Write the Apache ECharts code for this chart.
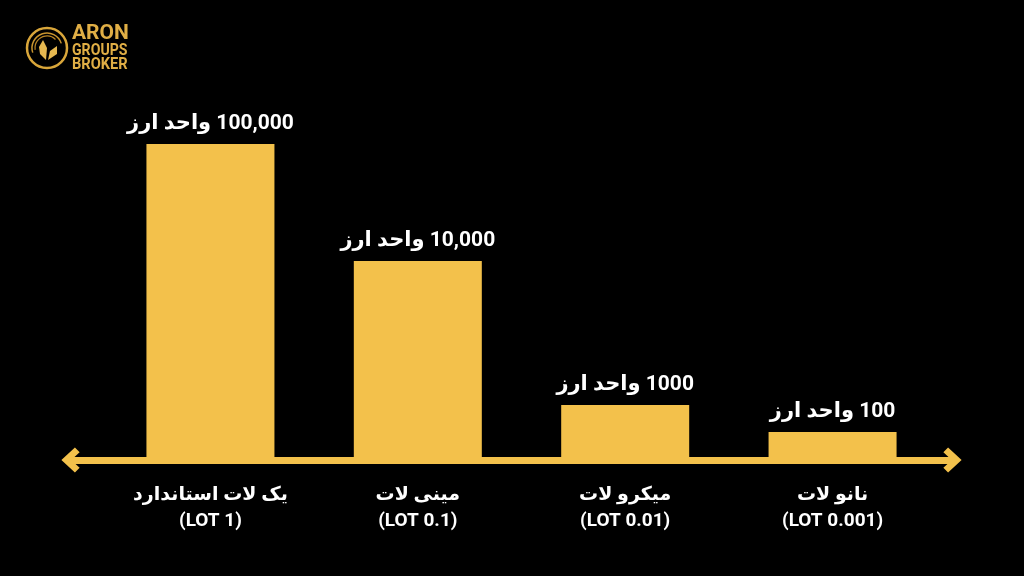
<!DOCTYPE html>
<html><head><meta charset="utf-8">
<script src="https://cdn.jsdelivr.net/npm/echarts@6/dist/echarts.min.js"></script>
<style>html,body{margin:0;padding:0;background:#000;}#c{width:1024px;height:576px;}</style>
</head><body><div id="c"></div>
<script>
// Category labels (Persian name + lot size)
const categories = ['یک لات استاندارد\n(LOT 1)', 'مینی لات\n(LOT 0.1)', 'میکرو لات\n(LOT 0.01)', 'نانو لات\n(LOT 0.001)'];
// Value labels shown above bars
const valueLabels = ['100,000 واحد ارز', '10,000 واحد ارز', '1000 واحد ارز', '100 واحد ارز'];
// Visual bar heights (illustrative, not to scale)
const barHeights = [316, 199, 55, 28];

const YELLOW = '#F3C14B';
const GOLD = '#E0AE45';
const FONT = "Roboto, 'DejaVu Sans', sans-serif";
const chevron = 'path://M12,0 L24,13 L19.5,17.5 L12,9.5 L4.5,17.5 L0,13 Z';

const chart = echarts.init(document.getElementById('c'), null, {renderer: 'canvas'});
chart.setOption({
  backgroundColor: '#000',
  animation: false,
  grid: [
    {left: 106.75, right: 87.75, top: 60, bottom: 116},
    {left: 70.5, right: 71.5, top: 60, bottom: 116}
  ],
  xAxis: [
    {
      type: 'category', data: categories, gridIndex: 0,
      axisLine: {show: false}, axisTick: {show: false},
      axisLabel: {
        color: '#fff', fontSize: 19, fontWeight: 'bold', fontFamily: FONT,
        lineHeight: 26, margin: 22, interval: 0
      }
    },
    {
      type: 'value', gridIndex: 1, min: 0, max: 1,
      splitLine: {show: false}, axisTick: {show: false}, axisLabel: {show: false},
      axisLine: {
        show: true, onZero: false,
        lineStyle: {color: YELLOW, width: 7},
        symbol: [chevron, chevron], symbolSize: [25, 19]
      }
    }
  ],
  yAxis: [
    {type: 'value', gridIndex: 0, min: 0, max: 400, show: false},
    {type: 'value', gridIndex: 1, min: 0, max: 1, show: false}
  ],
  series: [{
    type: 'bar', xAxisIndex: 0, yAxisIndex: 0,
    data: barHeights, barWidth: 128, z: 1,
    itemStyle: {color: YELLOW},
    label: {
      show: true, position: 'top', distance: 10,
      color: '#fff', fontSize: 21, fontWeight: 'bold', fontFamily: FONT,
      formatter: p => '\u202B' + valueLabels[p.dataIndex] + '\u202C'
    }
  }],
  graphic: [
    {type: 'circle', shape: {cx: 47, cy: 48, r: 20}, style: {fill: 'none', stroke: '#D9A63A', lineWidth: 2.5}},
    {type: 'arc', shape: {cx: 47, cy: 48, r: 15, startAngle: Math.PI * 0.9, endAngle: Math.PI * 1.9}, style: {fill: 'none', stroke: '#C8942E', lineWidth: 1.5}},
    {type: 'arc', shape: {cx: 47, cy: 48, r: 12, startAngle: Math.PI * 0.95, endAngle: Math.PI * 1.75}, style: {fill: 'none', stroke: '#B98524', lineWidth: 1.2}},
    {type: 'polygon', shape: {points: [[46,60],[40,54],[39,47],[43,40],[47,48]]}, style: {fill: '#E6B850'}},
    {type: 'polygon', shape: {points: [[48,60],[50,51],[57,46],[57,54]]}, style: {fill: '#E6B850'}},
    {type: 'text', x: 72, y: 23, style: {text: 'ARON', fill: GOLD, font: "bold 21px " + FONT}},
    {type: 'text', x: 72, y: 42, scaleX: 0.83, style: {text: 'GROUPS', fill: GOLD, font: "bold 17px " + FONT}},
    {type: 'text', x: 72, y: 56, scaleX: 0.86, style: {text: 'BROKER', fill: GOLD, font: "bold 17px " + FONT}}
  ]
});
</script></body></html>
